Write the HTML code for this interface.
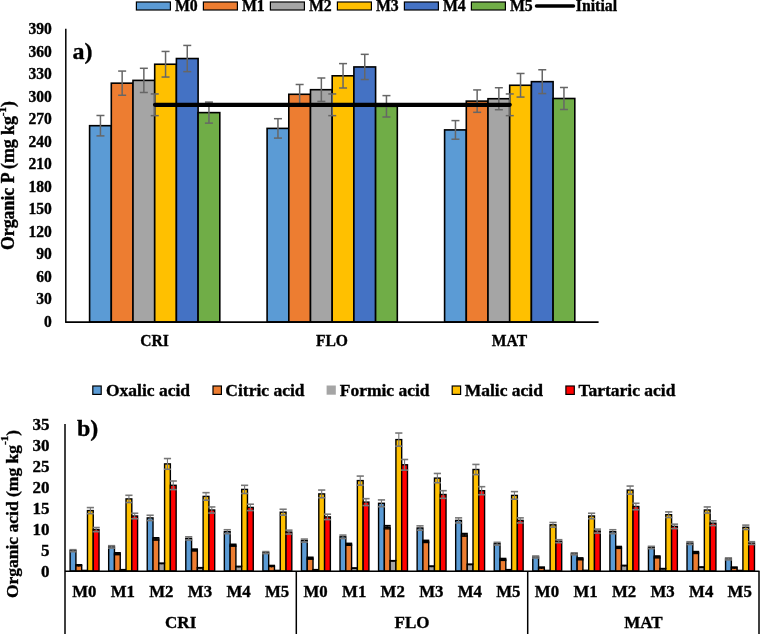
<!DOCTYPE html>
<html><head><meta charset="utf-8"><style>
html,body{margin:0;padding:0;background:#fff;width:760px;height:634px;overflow:hidden}
svg{display:block;will-change:transform}
text{font-family:"Liberation Serif", serif;font-weight:bold;fill:#000;stroke:#000;stroke-width:0.35px}
</style></head><body>
<svg width="760" height="634" viewBox="0 0 760 634">
<rect width="760" height="634" fill="#fff"/>
<rect x="136.40" y="2.00" width="34.00" height="8.00" fill="#5B9BD5" stroke="#000" stroke-width="1.2"/>
<text transform="translate(174.90,10.50) scale(1,1.0)" font-size="15.8" text-anchor="start" >M0</text>
<rect x="203.40" y="2.00" width="34.00" height="8.00" fill="#ED7D31" stroke="#000" stroke-width="1.2"/>
<text transform="translate(241.90,10.50) scale(1,1.0)" font-size="15.8" text-anchor="start" >M1</text>
<rect x="270.40" y="2.00" width="34.00" height="8.00" fill="#A5A5A5" stroke="#000" stroke-width="1.2"/>
<text transform="translate(308.90,10.50) scale(1,1.0)" font-size="15.8" text-anchor="start" >M2</text>
<rect x="337.40" y="2.00" width="34.00" height="8.00" fill="#FFC000" stroke="#000" stroke-width="1.2"/>
<text transform="translate(375.90,10.50) scale(1,1.0)" font-size="15.8" text-anchor="start" >M3</text>
<rect x="404.40" y="2.00" width="34.00" height="8.00" fill="#4472C4" stroke="#000" stroke-width="1.2"/>
<text transform="translate(442.90,10.50) scale(1,1.0)" font-size="15.8" text-anchor="start" >M4</text>
<rect x="471.40" y="2.00" width="34.00" height="8.00" fill="#70AD47" stroke="#000" stroke-width="1.2"/>
<text transform="translate(509.90,10.50) scale(1,1.0)" font-size="15.8" text-anchor="start" >M5</text>
<line x1="536.50" y1="6.10" x2="573.50" y2="6.10" stroke="#000" stroke-width="3.5" stroke-linecap="round"/>
<text transform="translate(575.80,10.50) scale(1,1.0)" font-size="15.8" text-anchor="start" >Initial</text>
<text transform="translate(51.80,327.00) scale(1,1.03)" font-size="15.6" text-anchor="end" >0</text>
<text transform="translate(51.80,304.46) scale(1,1.03)" font-size="15.6" text-anchor="end" >30</text>
<text transform="translate(51.80,281.92) scale(1,1.03)" font-size="15.6" text-anchor="end" >60</text>
<text transform="translate(51.80,259.38) scale(1,1.03)" font-size="15.6" text-anchor="end" >90</text>
<text transform="translate(51.80,236.85) scale(1,1.03)" font-size="15.6" text-anchor="end" >120</text>
<text transform="translate(51.80,214.31) scale(1,1.03)" font-size="15.6" text-anchor="end" >150</text>
<text transform="translate(51.80,191.77) scale(1,1.03)" font-size="15.6" text-anchor="end" >180</text>
<text transform="translate(51.80,169.23) scale(1,1.03)" font-size="15.6" text-anchor="end" >210</text>
<text transform="translate(51.80,146.69) scale(1,1.03)" font-size="15.6" text-anchor="end" >240</text>
<text transform="translate(51.80,124.15) scale(1,1.03)" font-size="15.6" text-anchor="end" >270</text>
<text transform="translate(51.80,101.62) scale(1,1.03)" font-size="15.6" text-anchor="end" >300</text>
<text transform="translate(51.80,79.08) scale(1,1.03)" font-size="15.6" text-anchor="end" >330</text>
<text transform="translate(51.80,56.54) scale(1,1.03)" font-size="15.6" text-anchor="end" >360</text>
<text transform="translate(51.80,34.00) scale(1,1.03)" font-size="15.6" text-anchor="end" >390</text>
<text transform="translate(14.3,250) rotate(-90)" font-size="17.8">Organic P (mg kg<tspan dy="-8" font-size="11">-1</tspan><tspan dy="8">)</tspan></text>
<text transform="translate(72.50,59.00) scale(1,1.0)" font-size="24" text-anchor="start" >a)</text>
<rect x="89.60" y="125.69" width="21.70" height="196.31" fill="#5B9BD5" stroke="#000" stroke-width="1.6"/>
<rect x="111.30" y="83.17" width="21.70" height="238.83" fill="#ED7D31" stroke="#000" stroke-width="1.6"/>
<rect x="133.00" y="80.39" width="21.70" height="241.61" fill="#A5A5A5" stroke="#000" stroke-width="1.6"/>
<rect x="154.70" y="64.24" width="21.70" height="257.76" fill="#FFC000" stroke="#000" stroke-width="1.6"/>
<rect x="176.40" y="58.53" width="21.70" height="263.47" fill="#4472C4" stroke="#000" stroke-width="1.6"/>
<rect x="198.10" y="112.62" width="21.70" height="209.38" fill="#70AD47" stroke="#000" stroke-width="1.6"/>
<rect x="267.10" y="128.39" width="21.70" height="193.61" fill="#5B9BD5" stroke="#000" stroke-width="1.6"/>
<rect x="288.80" y="94.29" width="21.70" height="227.71" fill="#ED7D31" stroke="#000" stroke-width="1.6"/>
<rect x="310.50" y="89.70" width="21.70" height="232.30" fill="#A5A5A5" stroke="#000" stroke-width="1.6"/>
<rect x="332.20" y="75.80" width="21.70" height="246.20" fill="#FFC000" stroke="#000" stroke-width="1.6"/>
<rect x="353.90" y="66.94" width="21.70" height="255.06" fill="#4472C4" stroke="#000" stroke-width="1.6"/>
<rect x="375.60" y="106.31" width="21.70" height="215.69" fill="#70AD47" stroke="#000" stroke-width="1.6"/>
<rect x="444.60" y="129.90" width="21.70" height="192.10" fill="#5B9BD5" stroke="#000" stroke-width="1.6"/>
<rect x="466.30" y="101.12" width="21.70" height="220.88" fill="#ED7D31" stroke="#000" stroke-width="1.6"/>
<rect x="488.00" y="98.72" width="21.70" height="223.28" fill="#A5A5A5" stroke="#000" stroke-width="1.6"/>
<rect x="509.70" y="85.27" width="21.70" height="236.73" fill="#FFC000" stroke="#000" stroke-width="1.6"/>
<rect x="531.40" y="81.66" width="21.70" height="240.34" fill="#4472C4" stroke="#000" stroke-width="1.6"/>
<rect x="553.10" y="98.49" width="21.70" height="223.51" fill="#70AD47" stroke="#000" stroke-width="1.6"/>
<line x1="100.45" y1="115.49" x2="100.45" y2="135.89" stroke="#666" stroke-width="1.5" />
<line x1="96.45" y1="115.49" x2="104.45" y2="115.49" stroke="#666" stroke-width="1.5" />
<line x1="96.45" y1="135.89" x2="104.45" y2="135.89" stroke="#666" stroke-width="1.5" />
<line x1="122.15" y1="71.07" x2="122.15" y2="95.27" stroke="#666" stroke-width="1.5" />
<line x1="118.15" y1="71.07" x2="126.15" y2="71.07" stroke="#666" stroke-width="1.5" />
<line x1="118.15" y1="95.27" x2="126.15" y2="95.27" stroke="#666" stroke-width="1.5" />
<line x1="143.85" y1="68.29" x2="143.85" y2="92.49" stroke="#666" stroke-width="1.5" />
<line x1="139.85" y1="68.29" x2="147.85" y2="68.29" stroke="#666" stroke-width="1.5" />
<line x1="139.85" y1="92.49" x2="147.85" y2="92.49" stroke="#666" stroke-width="1.5" />
<line x1="165.55" y1="51.44" x2="165.55" y2="77.04" stroke="#666" stroke-width="1.5" />
<line x1="161.55" y1="51.44" x2="169.55" y2="51.44" stroke="#666" stroke-width="1.5" />
<line x1="161.55" y1="77.04" x2="169.55" y2="77.04" stroke="#666" stroke-width="1.5" />
<line x1="187.25" y1="45.43" x2="187.25" y2="71.63" stroke="#666" stroke-width="1.5" />
<line x1="183.25" y1="45.43" x2="191.25" y2="45.43" stroke="#666" stroke-width="1.5" />
<line x1="183.25" y1="71.63" x2="191.25" y2="71.63" stroke="#666" stroke-width="1.5" />
<line x1="208.95" y1="102.12" x2="208.95" y2="123.12" stroke="#666" stroke-width="1.5" />
<line x1="204.95" y1="102.12" x2="212.95" y2="102.12" stroke="#666" stroke-width="1.5" />
<line x1="204.95" y1="123.12" x2="212.95" y2="123.12" stroke="#666" stroke-width="1.5" />
<line x1="277.95" y1="118.69" x2="277.95" y2="138.09" stroke="#666" stroke-width="1.5" />
<line x1="273.95" y1="118.69" x2="281.95" y2="118.69" stroke="#666" stroke-width="1.5" />
<line x1="273.95" y1="138.09" x2="281.95" y2="138.09" stroke="#666" stroke-width="1.5" />
<line x1="299.65" y1="84.49" x2="299.65" y2="104.09" stroke="#666" stroke-width="1.5" />
<line x1="295.65" y1="84.49" x2="303.65" y2="84.49" stroke="#666" stroke-width="1.5" />
<line x1="295.65" y1="104.09" x2="303.65" y2="104.09" stroke="#666" stroke-width="1.5" />
<line x1="321.35" y1="78.00" x2="321.35" y2="101.40" stroke="#666" stroke-width="1.5" />
<line x1="317.35" y1="78.00" x2="325.35" y2="78.00" stroke="#666" stroke-width="1.5" />
<line x1="317.35" y1="101.40" x2="325.35" y2="101.40" stroke="#666" stroke-width="1.5" />
<line x1="343.05" y1="63.60" x2="343.05" y2="88.00" stroke="#666" stroke-width="1.5" />
<line x1="339.05" y1="63.60" x2="347.05" y2="63.60" stroke="#666" stroke-width="1.5" />
<line x1="339.05" y1="88.00" x2="347.05" y2="88.00" stroke="#666" stroke-width="1.5" />
<line x1="364.75" y1="54.34" x2="364.75" y2="79.54" stroke="#666" stroke-width="1.5" />
<line x1="360.75" y1="54.34" x2="368.75" y2="54.34" stroke="#666" stroke-width="1.5" />
<line x1="360.75" y1="79.54" x2="368.75" y2="79.54" stroke="#666" stroke-width="1.5" />
<line x1="386.45" y1="95.61" x2="386.45" y2="117.01" stroke="#666" stroke-width="1.5" />
<line x1="382.45" y1="95.61" x2="390.45" y2="95.61" stroke="#666" stroke-width="1.5" />
<line x1="382.45" y1="117.01" x2="390.45" y2="117.01" stroke="#666" stroke-width="1.5" />
<line x1="455.45" y1="120.60" x2="455.45" y2="139.20" stroke="#666" stroke-width="1.5" />
<line x1="451.45" y1="120.60" x2="459.45" y2="120.60" stroke="#666" stroke-width="1.5" />
<line x1="451.45" y1="139.20" x2="459.45" y2="139.20" stroke="#666" stroke-width="1.5" />
<line x1="477.15" y1="89.92" x2="477.15" y2="112.32" stroke="#666" stroke-width="1.5" />
<line x1="473.15" y1="89.92" x2="481.15" y2="89.92" stroke="#666" stroke-width="1.5" />
<line x1="473.15" y1="112.32" x2="481.15" y2="112.32" stroke="#666" stroke-width="1.5" />
<line x1="498.85" y1="87.72" x2="498.85" y2="109.72" stroke="#666" stroke-width="1.5" />
<line x1="494.85" y1="87.72" x2="502.85" y2="87.72" stroke="#666" stroke-width="1.5" />
<line x1="494.85" y1="109.72" x2="502.85" y2="109.72" stroke="#666" stroke-width="1.5" />
<line x1="520.55" y1="73.47" x2="520.55" y2="97.07" stroke="#666" stroke-width="1.5" />
<line x1="516.55" y1="73.47" x2="524.55" y2="73.47" stroke="#666" stroke-width="1.5" />
<line x1="516.55" y1="97.07" x2="524.55" y2="97.07" stroke="#666" stroke-width="1.5" />
<line x1="542.25" y1="69.76" x2="542.25" y2="93.56" stroke="#666" stroke-width="1.5" />
<line x1="538.25" y1="69.76" x2="546.25" y2="69.76" stroke="#666" stroke-width="1.5" />
<line x1="538.25" y1="93.56" x2="546.25" y2="93.56" stroke="#666" stroke-width="1.5" />
<line x1="563.95" y1="87.49" x2="563.95" y2="109.49" stroke="#666" stroke-width="1.5" />
<line x1="559.95" y1="87.49" x2="567.95" y2="87.49" stroke="#666" stroke-width="1.5" />
<line x1="559.95" y1="109.49" x2="567.95" y2="109.49" stroke="#666" stroke-width="1.5" />
<line x1="65.80" y1="28.70" x2="65.80" y2="322.60" stroke="#000" stroke-width="1.5" />
<line x1="65.20" y1="322.10" x2="598.60" y2="322.10" stroke="#000" stroke-width="1.6" />
<line x1="154.75" y1="93.95" x2="154.75" y2="115.65" stroke="#666" stroke-width="1.5" />
<line x1="150.75" y1="93.95" x2="158.75" y2="93.95" stroke="#666" stroke-width="1.5" />
<line x1="150.75" y1="115.65" x2="158.75" y2="115.65" stroke="#666" stroke-width="1.5" />
<line x1="332.25" y1="93.95" x2="332.25" y2="115.65" stroke="#666" stroke-width="1.5" />
<line x1="328.25" y1="93.95" x2="336.25" y2="93.95" stroke="#666" stroke-width="1.5" />
<line x1="328.25" y1="115.65" x2="336.25" y2="115.65" stroke="#666" stroke-width="1.5" />
<line x1="509.75" y1="93.95" x2="509.75" y2="115.65" stroke="#666" stroke-width="1.5" />
<line x1="505.75" y1="93.95" x2="513.75" y2="93.95" stroke="#666" stroke-width="1.5" />
<line x1="505.75" y1="115.65" x2="513.75" y2="115.65" stroke="#666" stroke-width="1.5" />
<line x1="155.05" y1="104.80" x2="509.75" y2="104.80" stroke="#000" stroke-width="4.2" stroke-linecap="round"/>
<text transform="translate(154.45,345.80) scale(1,1.06)" font-size="15.6" text-anchor="middle" >CRI</text>
<text transform="translate(331.95,345.80) scale(1,1.06)" font-size="15.6" text-anchor="middle" >FLO</text>
<text transform="translate(509.45,345.80) scale(1,1.06)" font-size="15.6" text-anchor="middle" >MAT</text>
<rect x="92.80" y="386.00" width="8.40" height="8.40" fill="#5B9BD5" stroke="#000" stroke-width="1.2"/>
<text transform="translate(106.00,395.50) scale(1,1.0)" font-size="17.5" text-anchor="start" >Oxalic acid</text>
<rect x="213.00" y="386.00" width="8.40" height="8.40" fill="#ED7D31" stroke="#000" stroke-width="1.2"/>
<text transform="translate(225.30,395.50) scale(1,1.0)" font-size="17.5" text-anchor="start" >Citric acid</text>
<rect x="326.60" y="385.5" width="9.2" height="9.2" fill="#A5A5A5"/>
<text transform="translate(339.70,395.50) scale(1,1.0)" font-size="17.5" text-anchor="start" >Formic acid</text>
<rect x="452.20" y="386.00" width="8.40" height="8.40" fill="#FFC000" stroke="#000" stroke-width="1.2"/>
<text transform="translate(464.70,395.50) scale(1,1.0)" font-size="17.5" text-anchor="start" >Malic acid</text>
<rect x="565.90" y="386.00" width="8.40" height="8.40" fill="#FF0000" stroke="#000" stroke-width="1.2"/>
<text transform="translate(578.40,395.50) scale(1,1.0)" font-size="17.5" text-anchor="start" >Tartaric acid</text>
<text transform="translate(49.50,576.80) scale(1,1.0)" font-size="17" text-anchor="end" >0</text>
<text transform="translate(49.50,555.80) scale(1,1.0)" font-size="17" text-anchor="end" >5</text>
<text transform="translate(49.50,534.80) scale(1,1.0)" font-size="17" text-anchor="end" >10</text>
<text transform="translate(49.50,513.80) scale(1,1.0)" font-size="17" text-anchor="end" >15</text>
<text transform="translate(49.50,492.80) scale(1,1.0)" font-size="17" text-anchor="end" >20</text>
<text transform="translate(49.50,471.80) scale(1,1.0)" font-size="17" text-anchor="end" >25</text>
<text transform="translate(49.50,450.80) scale(1,1.0)" font-size="17" text-anchor="end" >30</text>
<text transform="translate(49.50,429.80) scale(1,1.0)" font-size="17" text-anchor="end" >35</text>
<text transform="translate(17.5,598.1) rotate(-90)" font-size="17.5">Organic acid (mg kg<tspan dy="-10" font-size="11">-1</tspan><tspan dy="10">)</tspan></text>
<text transform="translate(77.00,436.30) scale(1,1.0)" font-size="24" text-anchor="start" >b)</text>
<rect x="70.13" y="550.70" width="5.78" height="20.30" fill="#5B9BD5" stroke="#000" stroke-width="1.4"/>
<rect x="75.91" y="565.80" width="5.78" height="5.20" fill="#ED7D31" stroke="#000" stroke-width="1.4"/>
<rect x="81.69" y="570.40" width="5.78" height="0.60" fill="#A5A5A5" stroke="#000" stroke-width="1.4"/>
<rect x="87.47" y="510.60" width="5.78" height="60.40" fill="#FFC000" stroke="#000" stroke-width="1.4"/>
<rect x="93.25" y="529.60" width="5.78" height="41.40" fill="#FF0000" stroke="#000" stroke-width="1.4"/>
<rect x="108.68" y="546.90" width="5.78" height="24.10" fill="#5B9BD5" stroke="#000" stroke-width="1.4"/>
<rect x="114.46" y="553.80" width="5.78" height="17.20" fill="#ED7D31" stroke="#000" stroke-width="1.4"/>
<rect x="120.24" y="569.60" width="5.78" height="1.40" fill="#A5A5A5" stroke="#000" stroke-width="1.4"/>
<rect x="126.02" y="498.90" width="5.78" height="72.10" fill="#FFC000" stroke="#000" stroke-width="1.4"/>
<rect x="131.80" y="516.00" width="5.78" height="55.00" fill="#FF0000" stroke="#000" stroke-width="1.4"/>
<rect x="147.24" y="517.90" width="5.78" height="53.10" fill="#5B9BD5" stroke="#000" stroke-width="1.4"/>
<rect x="153.02" y="539.00" width="5.78" height="32.00" fill="#ED7D31" stroke="#000" stroke-width="1.4"/>
<rect x="158.80" y="563.60" width="5.78" height="7.40" fill="#A5A5A5" stroke="#000" stroke-width="1.4"/>
<rect x="164.58" y="463.90" width="5.78" height="107.10" fill="#FFC000" stroke="#000" stroke-width="1.4"/>
<rect x="170.36" y="485.30" width="5.78" height="85.70" fill="#FF0000" stroke="#000" stroke-width="1.4"/>
<rect x="185.79" y="538.40" width="5.78" height="32.60" fill="#5B9BD5" stroke="#000" stroke-width="1.4"/>
<rect x="191.57" y="550.10" width="5.78" height="20.90" fill="#ED7D31" stroke="#000" stroke-width="1.4"/>
<rect x="197.35" y="568.10" width="5.78" height="2.90" fill="#A5A5A5" stroke="#000" stroke-width="1.4"/>
<rect x="203.13" y="496.40" width="5.78" height="74.60" fill="#FFC000" stroke="#000" stroke-width="1.4"/>
<rect x="208.91" y="510.00" width="5.78" height="61.00" fill="#FF0000" stroke="#000" stroke-width="1.4"/>
<rect x="224.35" y="531.70" width="5.78" height="39.30" fill="#5B9BD5" stroke="#000" stroke-width="1.4"/>
<rect x="230.13" y="545.30" width="5.78" height="25.70" fill="#ED7D31" stroke="#000" stroke-width="1.4"/>
<rect x="235.91" y="566.80" width="5.78" height="4.20" fill="#A5A5A5" stroke="#000" stroke-width="1.4"/>
<rect x="241.69" y="489.40" width="5.78" height="81.60" fill="#FFC000" stroke="#000" stroke-width="1.4"/>
<rect x="247.47" y="507.40" width="5.78" height="63.60" fill="#FF0000" stroke="#000" stroke-width="1.4"/>
<rect x="262.91" y="552.60" width="5.78" height="18.40" fill="#5B9BD5" stroke="#000" stroke-width="1.4"/>
<rect x="268.69" y="566.50" width="5.78" height="4.50" fill="#ED7D31" stroke="#000" stroke-width="1.4"/>
<rect x="274.47" y="570.40" width="5.78" height="0.60" fill="#A5A5A5" stroke="#000" stroke-width="1.4"/>
<rect x="280.25" y="512.20" width="5.78" height="58.80" fill="#FFC000" stroke="#000" stroke-width="1.4"/>
<rect x="286.03" y="532.10" width="5.78" height="38.90" fill="#FF0000" stroke="#000" stroke-width="1.4"/>
<rect x="301.46" y="540.60" width="5.78" height="30.40" fill="#5B9BD5" stroke="#000" stroke-width="1.4"/>
<rect x="307.24" y="558.30" width="5.78" height="12.70" fill="#ED7D31" stroke="#000" stroke-width="1.4"/>
<rect x="313.02" y="569.60" width="5.78" height="1.40" fill="#A5A5A5" stroke="#000" stroke-width="1.4"/>
<rect x="318.80" y="493.90" width="5.78" height="77.10" fill="#FFC000" stroke="#000" stroke-width="1.4"/>
<rect x="324.58" y="516.90" width="5.78" height="54.10" fill="#FF0000" stroke="#000" stroke-width="1.4"/>
<rect x="340.02" y="536.80" width="5.78" height="34.20" fill="#5B9BD5" stroke="#000" stroke-width="1.4"/>
<rect x="345.80" y="544.40" width="5.78" height="26.60" fill="#ED7D31" stroke="#000" stroke-width="1.4"/>
<rect x="351.58" y="568.40" width="5.78" height="2.60" fill="#A5A5A5" stroke="#000" stroke-width="1.4"/>
<rect x="357.36" y="480.60" width="5.78" height="90.40" fill="#FFC000" stroke="#000" stroke-width="1.4"/>
<rect x="363.14" y="502.10" width="5.78" height="68.90" fill="#FF0000" stroke="#000" stroke-width="1.4"/>
<rect x="378.57" y="503.30" width="5.78" height="67.70" fill="#5B9BD5" stroke="#000" stroke-width="1.4"/>
<rect x="384.35" y="527.30" width="5.78" height="43.70" fill="#ED7D31" stroke="#000" stroke-width="1.4"/>
<rect x="390.13" y="561.10" width="5.78" height="9.90" fill="#A5A5A5" stroke="#000" stroke-width="1.4"/>
<rect x="395.91" y="439.60" width="5.78" height="131.40" fill="#FFC000" stroke="#000" stroke-width="1.4"/>
<rect x="401.69" y="464.80" width="5.78" height="106.20" fill="#FF0000" stroke="#000" stroke-width="1.4"/>
<rect x="417.13" y="528.00" width="5.78" height="43.00" fill="#5B9BD5" stroke="#000" stroke-width="1.4"/>
<rect x="422.91" y="541.50" width="5.78" height="29.50" fill="#ED7D31" stroke="#000" stroke-width="1.4"/>
<rect x="428.69" y="566.50" width="5.78" height="4.50" fill="#A5A5A5" stroke="#000" stroke-width="1.4"/>
<rect x="434.47" y="478.10" width="5.78" height="92.90" fill="#FFC000" stroke="#000" stroke-width="1.4"/>
<rect x="440.25" y="494.50" width="5.78" height="76.50" fill="#FF0000" stroke="#000" stroke-width="1.4"/>
<rect x="455.68" y="520.40" width="5.78" height="50.60" fill="#5B9BD5" stroke="#000" stroke-width="1.4"/>
<rect x="461.46" y="534.90" width="5.78" height="36.10" fill="#ED7D31" stroke="#000" stroke-width="1.4"/>
<rect x="467.24" y="564.60" width="5.78" height="6.40" fill="#A5A5A5" stroke="#000" stroke-width="1.4"/>
<rect x="473.02" y="469.50" width="5.78" height="101.50" fill="#FFC000" stroke="#000" stroke-width="1.4"/>
<rect x="478.80" y="490.70" width="5.78" height="80.30" fill="#FF0000" stroke="#000" stroke-width="1.4"/>
<rect x="494.24" y="543.70" width="5.78" height="27.30" fill="#5B9BD5" stroke="#000" stroke-width="1.4"/>
<rect x="500.02" y="559.50" width="5.78" height="11.50" fill="#ED7D31" stroke="#000" stroke-width="1.4"/>
<rect x="505.80" y="569.60" width="5.78" height="1.40" fill="#A5A5A5" stroke="#000" stroke-width="1.4"/>
<rect x="511.58" y="495.40" width="5.78" height="75.60" fill="#FFC000" stroke="#000" stroke-width="1.4"/>
<rect x="517.36" y="520.40" width="5.78" height="50.60" fill="#FF0000" stroke="#000" stroke-width="1.4"/>
<rect x="532.79" y="557.00" width="5.78" height="14.00" fill="#5B9BD5" stroke="#000" stroke-width="1.4"/>
<rect x="538.57" y="568.10" width="5.78" height="2.90" fill="#ED7D31" stroke="#000" stroke-width="1.4"/>
<rect x="544.35" y="570.40" width="5.78" height="0.60" fill="#A5A5A5" stroke="#000" stroke-width="1.4"/>
<rect x="550.13" y="524.80" width="5.78" height="46.20" fill="#FFC000" stroke="#000" stroke-width="1.4"/>
<rect x="555.91" y="541.20" width="5.78" height="29.80" fill="#FF0000" stroke="#000" stroke-width="1.4"/>
<rect x="571.35" y="553.80" width="5.78" height="17.20" fill="#5B9BD5" stroke="#000" stroke-width="1.4"/>
<rect x="577.13" y="558.90" width="5.78" height="12.10" fill="#ED7D31" stroke="#000" stroke-width="1.4"/>
<rect x="582.91" y="570.30" width="5.78" height="0.70" fill="#A5A5A5" stroke="#000" stroke-width="1.4"/>
<rect x="588.69" y="516.00" width="5.78" height="55.00" fill="#FFC000" stroke="#000" stroke-width="1.4"/>
<rect x="594.47" y="531.10" width="5.78" height="39.90" fill="#FF0000" stroke="#000" stroke-width="1.4"/>
<rect x="609.91" y="531.70" width="5.78" height="39.30" fill="#5B9BD5" stroke="#000" stroke-width="1.4"/>
<rect x="615.69" y="547.50" width="5.78" height="23.50" fill="#ED7D31" stroke="#000" stroke-width="1.4"/>
<rect x="621.47" y="565.80" width="5.78" height="5.20" fill="#A5A5A5" stroke="#000" stroke-width="1.4"/>
<rect x="627.25" y="490.10" width="5.78" height="80.90" fill="#FFC000" stroke="#000" stroke-width="1.4"/>
<rect x="633.03" y="506.50" width="5.78" height="64.50" fill="#FF0000" stroke="#000" stroke-width="1.4"/>
<rect x="648.46" y="547.50" width="5.78" height="23.50" fill="#5B9BD5" stroke="#000" stroke-width="1.4"/>
<rect x="654.24" y="557.00" width="5.78" height="14.00" fill="#ED7D31" stroke="#000" stroke-width="1.4"/>
<rect x="660.02" y="569.00" width="5.78" height="2.00" fill="#A5A5A5" stroke="#000" stroke-width="1.4"/>
<rect x="665.80" y="514.70" width="5.78" height="56.30" fill="#FFC000" stroke="#000" stroke-width="1.4"/>
<rect x="671.58" y="526.40" width="5.78" height="44.60" fill="#FF0000" stroke="#000" stroke-width="1.4"/>
<rect x="687.02" y="543.10" width="5.78" height="27.90" fill="#5B9BD5" stroke="#000" stroke-width="1.4"/>
<rect x="692.80" y="552.60" width="5.78" height="18.40" fill="#ED7D31" stroke="#000" stroke-width="1.4"/>
<rect x="698.58" y="567.40" width="5.78" height="3.60" fill="#A5A5A5" stroke="#000" stroke-width="1.4"/>
<rect x="704.36" y="510.00" width="5.78" height="61.00" fill="#FFC000" stroke="#000" stroke-width="1.4"/>
<rect x="710.14" y="523.20" width="5.78" height="47.80" fill="#FF0000" stroke="#000" stroke-width="1.4"/>
<rect x="725.57" y="558.90" width="5.78" height="12.10" fill="#5B9BD5" stroke="#000" stroke-width="1.4"/>
<rect x="731.35" y="568.10" width="5.78" height="2.90" fill="#ED7D31" stroke="#000" stroke-width="1.4"/>
<rect x="737.13" y="570.40" width="5.78" height="0.60" fill="#A5A5A5" stroke="#000" stroke-width="1.4"/>
<rect x="742.91" y="527.30" width="5.78" height="43.70" fill="#FFC000" stroke="#000" stroke-width="1.4"/>
<rect x="748.69" y="543.10" width="5.78" height="27.90" fill="#FF0000" stroke="#000" stroke-width="1.4"/>
<line x1="73.02" y1="549.69" x2="73.02" y2="551.72" stroke="#777" stroke-width="1.1" />
<line x1="69.42" y1="549.69" x2="76.62" y2="549.69" stroke="#777" stroke-width="1.6" />
<line x1="69.42" y1="551.72" x2="76.62" y2="551.72" stroke="#777" stroke-width="1.6" />
<line x1="78.80" y1="564.90" x2="78.80" y2="566.70" stroke="#000" stroke-width="1.0" />
<line x1="75.30" y1="564.90" x2="82.30" y2="564.90" stroke="#000" stroke-width="1.8" />
<line x1="90.36" y1="507.58" x2="90.36" y2="513.62" stroke="#777" stroke-width="1.1" />
<line x1="86.76" y1="507.58" x2="93.96" y2="507.58" stroke="#777" stroke-width="1.6" />
<line x1="86.76" y1="513.62" x2="93.96" y2="513.62" stroke="#777" stroke-width="1.6" />
<line x1="96.14" y1="527.53" x2="96.14" y2="531.67" stroke="#777" stroke-width="1.1" />
<line x1="92.54" y1="527.53" x2="99.74" y2="527.53" stroke="#777" stroke-width="1.6" />
<line x1="92.54" y1="531.67" x2="99.74" y2="531.67" stroke="#777" stroke-width="1.6" />
<line x1="111.57" y1="545.69" x2="111.57" y2="548.11" stroke="#777" stroke-width="1.1" />
<line x1="107.97" y1="545.69" x2="115.17" y2="545.69" stroke="#777" stroke-width="1.6" />
<line x1="107.97" y1="548.11" x2="115.17" y2="548.11" stroke="#777" stroke-width="1.6" />
<line x1="117.35" y1="552.90" x2="117.35" y2="554.70" stroke="#000" stroke-width="1.0" />
<line x1="113.85" y1="552.90" x2="120.85" y2="552.90" stroke="#000" stroke-width="1.8" />
<line x1="113.85" y1="554.70" x2="120.85" y2="554.70" stroke="#000" stroke-width="1.4" />
<line x1="128.91" y1="495.30" x2="128.91" y2="502.51" stroke="#777" stroke-width="1.1" />
<line x1="125.31" y1="495.30" x2="132.51" y2="495.30" stroke="#777" stroke-width="1.6" />
<line x1="125.31" y1="502.51" x2="132.51" y2="502.51" stroke="#777" stroke-width="1.6" />
<line x1="134.69" y1="513.25" x2="134.69" y2="518.75" stroke="#777" stroke-width="1.1" />
<line x1="131.09" y1="513.25" x2="138.29" y2="513.25" stroke="#777" stroke-width="1.6" />
<line x1="131.09" y1="518.75" x2="138.29" y2="518.75" stroke="#777" stroke-width="1.6" />
<line x1="150.13" y1="515.25" x2="150.13" y2="520.55" stroke="#777" stroke-width="1.1" />
<line x1="146.53" y1="515.25" x2="153.73" y2="515.25" stroke="#777" stroke-width="1.6" />
<line x1="146.53" y1="520.55" x2="153.73" y2="520.55" stroke="#777" stroke-width="1.6" />
<line x1="155.91" y1="537.88" x2="155.91" y2="540.12" stroke="#000" stroke-width="1.0" />
<line x1="152.41" y1="537.88" x2="159.41" y2="537.88" stroke="#000" stroke-width="1.8" />
<line x1="152.41" y1="540.12" x2="159.41" y2="540.12" stroke="#000" stroke-width="1.4" />
<line x1="161.69" y1="563.00" x2="161.69" y2="564.20" stroke="#000" stroke-width="1.0" />
<line x1="158.19" y1="563.00" x2="165.19" y2="563.00" stroke="#000" stroke-width="1.2" />
<line x1="167.47" y1="458.55" x2="167.47" y2="469.26" stroke="#777" stroke-width="1.1" />
<line x1="163.87" y1="458.55" x2="171.07" y2="458.55" stroke="#777" stroke-width="1.6" />
<line x1="163.87" y1="469.26" x2="171.07" y2="469.26" stroke="#777" stroke-width="1.6" />
<line x1="173.25" y1="481.01" x2="173.25" y2="489.59" stroke="#777" stroke-width="1.1" />
<line x1="169.65" y1="481.01" x2="176.85" y2="481.01" stroke="#777" stroke-width="1.6" />
<line x1="169.65" y1="489.59" x2="176.85" y2="489.59" stroke="#777" stroke-width="1.6" />
<line x1="188.68" y1="536.77" x2="188.68" y2="540.03" stroke="#777" stroke-width="1.1" />
<line x1="185.08" y1="536.77" x2="192.28" y2="536.77" stroke="#777" stroke-width="1.6" />
<line x1="185.08" y1="540.03" x2="192.28" y2="540.03" stroke="#777" stroke-width="1.6" />
<line x1="194.46" y1="549.20" x2="194.46" y2="551.00" stroke="#000" stroke-width="1.0" />
<line x1="190.96" y1="549.20" x2="197.96" y2="549.20" stroke="#000" stroke-width="1.8" />
<line x1="190.96" y1="551.00" x2="197.96" y2="551.00" stroke="#000" stroke-width="1.4" />
<line x1="200.24" y1="567.50" x2="200.24" y2="568.70" stroke="#000" stroke-width="1.0" />
<line x1="196.74" y1="567.50" x2="203.74" y2="567.50" stroke="#000" stroke-width="1.2" />
<line x1="206.02" y1="492.67" x2="206.02" y2="500.13" stroke="#777" stroke-width="1.1" />
<line x1="202.42" y1="492.67" x2="209.62" y2="492.67" stroke="#777" stroke-width="1.6" />
<line x1="202.42" y1="500.13" x2="209.62" y2="500.13" stroke="#777" stroke-width="1.6" />
<line x1="211.80" y1="506.95" x2="211.80" y2="513.05" stroke="#777" stroke-width="1.1" />
<line x1="208.20" y1="506.95" x2="215.40" y2="506.95" stroke="#777" stroke-width="1.6" />
<line x1="208.20" y1="513.05" x2="215.40" y2="513.05" stroke="#777" stroke-width="1.6" />
<line x1="227.24" y1="529.74" x2="227.24" y2="533.67" stroke="#777" stroke-width="1.1" />
<line x1="223.64" y1="529.74" x2="230.84" y2="529.74" stroke="#777" stroke-width="1.6" />
<line x1="223.64" y1="533.67" x2="230.84" y2="533.67" stroke="#777" stroke-width="1.6" />
<line x1="233.02" y1="544.40" x2="233.02" y2="546.20" stroke="#000" stroke-width="1.0" />
<line x1="229.52" y1="544.40" x2="236.52" y2="544.40" stroke="#000" stroke-width="1.8" />
<line x1="229.52" y1="546.20" x2="236.52" y2="546.20" stroke="#000" stroke-width="1.4" />
<line x1="238.80" y1="566.20" x2="238.80" y2="567.40" stroke="#000" stroke-width="1.0" />
<line x1="235.30" y1="566.20" x2="242.30" y2="566.20" stroke="#000" stroke-width="1.2" />
<line x1="244.58" y1="485.32" x2="244.58" y2="493.48" stroke="#777" stroke-width="1.1" />
<line x1="240.98" y1="485.32" x2="248.18" y2="485.32" stroke="#777" stroke-width="1.6" />
<line x1="240.98" y1="493.48" x2="248.18" y2="493.48" stroke="#777" stroke-width="1.6" />
<line x1="250.36" y1="504.22" x2="250.36" y2="510.58" stroke="#777" stroke-width="1.1" />
<line x1="246.76" y1="504.22" x2="253.96" y2="504.22" stroke="#777" stroke-width="1.6" />
<line x1="246.76" y1="510.58" x2="253.96" y2="510.58" stroke="#777" stroke-width="1.6" />
<line x1="265.80" y1="551.60" x2="265.80" y2="553.60" stroke="#777" stroke-width="1.1" />
<line x1="262.20" y1="551.60" x2="269.40" y2="551.60" stroke="#777" stroke-width="1.6" />
<line x1="262.20" y1="553.60" x2="269.40" y2="553.60" stroke="#777" stroke-width="1.6" />
<line x1="271.58" y1="565.60" x2="271.58" y2="567.40" stroke="#000" stroke-width="1.0" />
<line x1="268.08" y1="565.60" x2="275.08" y2="565.60" stroke="#000" stroke-width="1.8" />
<line x1="283.14" y1="509.26" x2="283.14" y2="515.14" stroke="#777" stroke-width="1.1" />
<line x1="279.54" y1="509.26" x2="286.74" y2="509.26" stroke="#777" stroke-width="1.6" />
<line x1="279.54" y1="515.14" x2="286.74" y2="515.14" stroke="#777" stroke-width="1.6" />
<line x1="288.92" y1="530.15" x2="288.92" y2="534.05" stroke="#777" stroke-width="1.1" />
<line x1="285.32" y1="530.15" x2="292.52" y2="530.15" stroke="#777" stroke-width="1.6" />
<line x1="285.32" y1="534.05" x2="292.52" y2="534.05" stroke="#777" stroke-width="1.6" />
<line x1="304.35" y1="539.08" x2="304.35" y2="542.12" stroke="#777" stroke-width="1.1" />
<line x1="300.75" y1="539.08" x2="307.95" y2="539.08" stroke="#777" stroke-width="1.6" />
<line x1="300.75" y1="542.12" x2="307.95" y2="542.12" stroke="#777" stroke-width="1.6" />
<line x1="310.13" y1="557.40" x2="310.13" y2="559.20" stroke="#000" stroke-width="1.0" />
<line x1="306.63" y1="557.40" x2="313.63" y2="557.40" stroke="#000" stroke-width="1.8" />
<line x1="306.63" y1="559.20" x2="313.63" y2="559.20" stroke="#000" stroke-width="1.4" />
<line x1="321.69" y1="490.05" x2="321.69" y2="497.76" stroke="#777" stroke-width="1.1" />
<line x1="318.09" y1="490.05" x2="325.29" y2="490.05" stroke="#777" stroke-width="1.6" />
<line x1="318.09" y1="497.76" x2="325.29" y2="497.76" stroke="#777" stroke-width="1.6" />
<line x1="327.47" y1="514.19" x2="327.47" y2="519.61" stroke="#777" stroke-width="1.1" />
<line x1="323.87" y1="514.19" x2="331.07" y2="514.19" stroke="#777" stroke-width="1.6" />
<line x1="323.87" y1="519.61" x2="331.07" y2="519.61" stroke="#777" stroke-width="1.6" />
<line x1="342.91" y1="535.09" x2="342.91" y2="538.51" stroke="#777" stroke-width="1.1" />
<line x1="339.31" y1="535.09" x2="346.51" y2="535.09" stroke="#777" stroke-width="1.6" />
<line x1="339.31" y1="538.51" x2="346.51" y2="538.51" stroke="#777" stroke-width="1.6" />
<line x1="348.69" y1="543.47" x2="348.69" y2="545.33" stroke="#000" stroke-width="1.0" />
<line x1="345.19" y1="543.47" x2="352.19" y2="543.47" stroke="#000" stroke-width="1.8" />
<line x1="345.19" y1="545.33" x2="352.19" y2="545.33" stroke="#000" stroke-width="1.4" />
<line x1="354.47" y1="567.80" x2="354.47" y2="569.00" stroke="#000" stroke-width="1.0" />
<line x1="350.97" y1="567.80" x2="357.97" y2="567.80" stroke="#000" stroke-width="1.2" />
<line x1="360.25" y1="476.08" x2="360.25" y2="485.12" stroke="#777" stroke-width="1.1" />
<line x1="356.65" y1="476.08" x2="363.85" y2="476.08" stroke="#777" stroke-width="1.6" />
<line x1="356.65" y1="485.12" x2="363.85" y2="485.12" stroke="#777" stroke-width="1.6" />
<line x1="366.03" y1="498.66" x2="366.03" y2="505.55" stroke="#777" stroke-width="1.1" />
<line x1="362.43" y1="498.66" x2="369.63" y2="498.66" stroke="#777" stroke-width="1.6" />
<line x1="362.43" y1="505.55" x2="369.63" y2="505.55" stroke="#777" stroke-width="1.6" />
<line x1="381.46" y1="499.92" x2="381.46" y2="506.69" stroke="#777" stroke-width="1.1" />
<line x1="377.86" y1="499.92" x2="385.06" y2="499.92" stroke="#777" stroke-width="1.6" />
<line x1="377.86" y1="506.69" x2="385.06" y2="506.69" stroke="#777" stroke-width="1.6" />
<line x1="387.24" y1="525.77" x2="387.24" y2="528.83" stroke="#000" stroke-width="1.0" />
<line x1="383.74" y1="525.77" x2="390.74" y2="525.77" stroke="#000" stroke-width="1.8" />
<line x1="383.74" y1="528.83" x2="390.74" y2="528.83" stroke="#000" stroke-width="1.4" />
<line x1="393.02" y1="560.50" x2="393.02" y2="561.70" stroke="#000" stroke-width="1.0" />
<line x1="389.52" y1="560.50" x2="396.52" y2="560.50" stroke="#000" stroke-width="1.2" />
<line x1="398.80" y1="433.03" x2="398.80" y2="446.17" stroke="#777" stroke-width="1.1" />
<line x1="395.20" y1="433.03" x2="402.40" y2="433.03" stroke="#777" stroke-width="1.6" />
<line x1="395.20" y1="446.17" x2="402.40" y2="446.17" stroke="#777" stroke-width="1.6" />
<line x1="404.58" y1="459.49" x2="404.58" y2="470.11" stroke="#777" stroke-width="1.1" />
<line x1="400.98" y1="459.49" x2="408.18" y2="459.49" stroke="#777" stroke-width="1.6" />
<line x1="400.98" y1="470.11" x2="408.18" y2="470.11" stroke="#777" stroke-width="1.6" />
<line x1="420.02" y1="525.85" x2="420.02" y2="530.15" stroke="#777" stroke-width="1.1" />
<line x1="416.42" y1="525.85" x2="423.62" y2="525.85" stroke="#777" stroke-width="1.6" />
<line x1="416.42" y1="530.15" x2="423.62" y2="530.15" stroke="#777" stroke-width="1.6" />
<line x1="425.80" y1="540.47" x2="425.80" y2="542.53" stroke="#000" stroke-width="1.0" />
<line x1="422.30" y1="540.47" x2="429.30" y2="540.47" stroke="#000" stroke-width="1.8" />
<line x1="422.30" y1="542.53" x2="429.30" y2="542.53" stroke="#000" stroke-width="1.4" />
<line x1="431.58" y1="565.90" x2="431.58" y2="567.10" stroke="#000" stroke-width="1.0" />
<line x1="428.08" y1="565.90" x2="435.08" y2="565.90" stroke="#000" stroke-width="1.2" />
<line x1="437.36" y1="473.46" x2="437.36" y2="482.75" stroke="#777" stroke-width="1.1" />
<line x1="433.76" y1="473.46" x2="440.96" y2="473.46" stroke="#777" stroke-width="1.6" />
<line x1="433.76" y1="482.75" x2="440.96" y2="482.75" stroke="#777" stroke-width="1.6" />
<line x1="443.14" y1="490.68" x2="443.14" y2="498.32" stroke="#777" stroke-width="1.1" />
<line x1="439.54" y1="490.68" x2="446.74" y2="490.68" stroke="#777" stroke-width="1.6" />
<line x1="439.54" y1="498.32" x2="446.74" y2="498.32" stroke="#777" stroke-width="1.6" />
<line x1="458.57" y1="517.87" x2="458.57" y2="522.93" stroke="#777" stroke-width="1.1" />
<line x1="454.97" y1="517.87" x2="462.17" y2="517.87" stroke="#777" stroke-width="1.6" />
<line x1="454.97" y1="522.93" x2="462.17" y2="522.93" stroke="#777" stroke-width="1.6" />
<line x1="464.35" y1="533.64" x2="464.35" y2="536.16" stroke="#000" stroke-width="1.0" />
<line x1="460.85" y1="533.64" x2="467.85" y2="533.64" stroke="#000" stroke-width="1.8" />
<line x1="460.85" y1="536.16" x2="467.85" y2="536.16" stroke="#000" stroke-width="1.4" />
<line x1="470.13" y1="564.00" x2="470.13" y2="565.20" stroke="#000" stroke-width="1.0" />
<line x1="466.63" y1="564.00" x2="473.63" y2="564.00" stroke="#000" stroke-width="1.2" />
<line x1="475.91" y1="464.43" x2="475.91" y2="474.57" stroke="#777" stroke-width="1.1" />
<line x1="472.31" y1="464.43" x2="479.51" y2="464.43" stroke="#777" stroke-width="1.6" />
<line x1="472.31" y1="474.57" x2="479.51" y2="474.57" stroke="#777" stroke-width="1.6" />
<line x1="481.69" y1="486.69" x2="481.69" y2="494.72" stroke="#777" stroke-width="1.1" />
<line x1="478.09" y1="486.69" x2="485.29" y2="486.69" stroke="#777" stroke-width="1.6" />
<line x1="478.09" y1="494.72" x2="485.29" y2="494.72" stroke="#777" stroke-width="1.6" />
<line x1="497.13" y1="542.34" x2="497.13" y2="545.07" stroke="#777" stroke-width="1.1" />
<line x1="493.53" y1="542.34" x2="500.73" y2="542.34" stroke="#777" stroke-width="1.6" />
<line x1="493.53" y1="545.07" x2="500.73" y2="545.07" stroke="#777" stroke-width="1.6" />
<line x1="502.91" y1="558.60" x2="502.91" y2="560.40" stroke="#000" stroke-width="1.0" />
<line x1="499.41" y1="558.60" x2="506.41" y2="558.60" stroke="#000" stroke-width="1.8" />
<line x1="499.41" y1="560.40" x2="506.41" y2="560.40" stroke="#000" stroke-width="1.4" />
<line x1="514.47" y1="491.62" x2="514.47" y2="499.18" stroke="#777" stroke-width="1.1" />
<line x1="510.87" y1="491.62" x2="518.07" y2="491.62" stroke="#777" stroke-width="1.6" />
<line x1="510.87" y1="499.18" x2="518.07" y2="499.18" stroke="#777" stroke-width="1.6" />
<line x1="520.25" y1="517.87" x2="520.25" y2="522.93" stroke="#777" stroke-width="1.1" />
<line x1="516.65" y1="517.87" x2="523.85" y2="517.87" stroke="#777" stroke-width="1.6" />
<line x1="516.65" y1="522.93" x2="523.85" y2="522.93" stroke="#777" stroke-width="1.6" />
<line x1="535.68" y1="556.00" x2="535.68" y2="558.00" stroke="#777" stroke-width="1.1" />
<line x1="532.08" y1="556.00" x2="539.28" y2="556.00" stroke="#777" stroke-width="1.6" />
<line x1="532.08" y1="558.00" x2="539.28" y2="558.00" stroke="#777" stroke-width="1.6" />
<line x1="541.46" y1="567.20" x2="541.46" y2="569.00" stroke="#000" stroke-width="1.0" />
<line x1="537.96" y1="567.20" x2="544.96" y2="567.20" stroke="#000" stroke-width="1.8" />
<line x1="553.02" y1="522.49" x2="553.02" y2="527.11" stroke="#777" stroke-width="1.1" />
<line x1="549.42" y1="522.49" x2="556.62" y2="522.49" stroke="#777" stroke-width="1.6" />
<line x1="549.42" y1="527.11" x2="556.62" y2="527.11" stroke="#777" stroke-width="1.6" />
<line x1="558.80" y1="539.71" x2="558.80" y2="542.69" stroke="#777" stroke-width="1.1" />
<line x1="555.20" y1="539.71" x2="562.40" y2="539.71" stroke="#777" stroke-width="1.6" />
<line x1="555.20" y1="542.69" x2="562.40" y2="542.69" stroke="#777" stroke-width="1.6" />
<line x1="574.24" y1="552.80" x2="574.24" y2="554.80" stroke="#777" stroke-width="1.1" />
<line x1="570.64" y1="552.80" x2="577.84" y2="552.80" stroke="#777" stroke-width="1.6" />
<line x1="570.64" y1="554.80" x2="577.84" y2="554.80" stroke="#777" stroke-width="1.6" />
<line x1="580.02" y1="558.00" x2="580.02" y2="559.80" stroke="#000" stroke-width="1.0" />
<line x1="576.52" y1="558.00" x2="583.52" y2="558.00" stroke="#000" stroke-width="1.8" />
<line x1="576.52" y1="559.80" x2="583.52" y2="559.80" stroke="#000" stroke-width="1.4" />
<line x1="591.58" y1="513.25" x2="591.58" y2="518.75" stroke="#777" stroke-width="1.1" />
<line x1="587.98" y1="513.25" x2="595.18" y2="513.25" stroke="#777" stroke-width="1.6" />
<line x1="587.98" y1="518.75" x2="595.18" y2="518.75" stroke="#777" stroke-width="1.6" />
<line x1="597.36" y1="529.11" x2="597.36" y2="533.10" stroke="#777" stroke-width="1.1" />
<line x1="593.76" y1="529.11" x2="600.96" y2="529.11" stroke="#777" stroke-width="1.6" />
<line x1="593.76" y1="533.10" x2="600.96" y2="533.10" stroke="#777" stroke-width="1.6" />
<line x1="612.80" y1="529.74" x2="612.80" y2="533.67" stroke="#777" stroke-width="1.1" />
<line x1="609.20" y1="529.74" x2="616.40" y2="529.74" stroke="#777" stroke-width="1.6" />
<line x1="609.20" y1="533.67" x2="616.40" y2="533.67" stroke="#777" stroke-width="1.6" />
<line x1="618.58" y1="546.60" x2="618.58" y2="548.40" stroke="#000" stroke-width="1.0" />
<line x1="615.08" y1="546.60" x2="622.08" y2="546.60" stroke="#000" stroke-width="1.8" />
<line x1="615.08" y1="548.40" x2="622.08" y2="548.40" stroke="#000" stroke-width="1.4" />
<line x1="624.36" y1="565.20" x2="624.36" y2="566.40" stroke="#000" stroke-width="1.0" />
<line x1="620.86" y1="565.20" x2="627.86" y2="565.20" stroke="#000" stroke-width="1.2" />
<line x1="630.14" y1="486.06" x2="630.14" y2="494.15" stroke="#777" stroke-width="1.1" />
<line x1="626.54" y1="486.06" x2="633.74" y2="486.06" stroke="#777" stroke-width="1.6" />
<line x1="626.54" y1="494.15" x2="633.74" y2="494.15" stroke="#777" stroke-width="1.6" />
<line x1="635.92" y1="503.27" x2="635.92" y2="509.73" stroke="#777" stroke-width="1.1" />
<line x1="632.32" y1="503.27" x2="639.52" y2="503.27" stroke="#777" stroke-width="1.6" />
<line x1="632.32" y1="509.73" x2="639.52" y2="509.73" stroke="#777" stroke-width="1.6" />
<line x1="651.35" y1="546.33" x2="651.35" y2="548.67" stroke="#777" stroke-width="1.1" />
<line x1="647.75" y1="546.33" x2="654.95" y2="546.33" stroke="#777" stroke-width="1.6" />
<line x1="647.75" y1="548.67" x2="654.95" y2="548.67" stroke="#777" stroke-width="1.6" />
<line x1="657.13" y1="556.10" x2="657.13" y2="557.90" stroke="#000" stroke-width="1.0" />
<line x1="653.63" y1="556.10" x2="660.63" y2="556.10" stroke="#000" stroke-width="1.8" />
<line x1="653.63" y1="557.90" x2="660.63" y2="557.90" stroke="#000" stroke-width="1.4" />
<line x1="662.91" y1="568.40" x2="662.91" y2="569.60" stroke="#000" stroke-width="1.0" />
<line x1="659.41" y1="568.40" x2="666.41" y2="568.40" stroke="#000" stroke-width="1.2" />
<line x1="668.69" y1="511.89" x2="668.69" y2="517.52" stroke="#777" stroke-width="1.1" />
<line x1="665.09" y1="511.89" x2="672.29" y2="511.89" stroke="#777" stroke-width="1.6" />
<line x1="665.09" y1="517.52" x2="672.29" y2="517.52" stroke="#777" stroke-width="1.6" />
<line x1="674.47" y1="524.17" x2="674.47" y2="528.63" stroke="#777" stroke-width="1.1" />
<line x1="670.87" y1="524.17" x2="678.07" y2="524.17" stroke="#777" stroke-width="1.6" />
<line x1="670.87" y1="528.63" x2="678.07" y2="528.63" stroke="#777" stroke-width="1.6" />
<line x1="689.91" y1="541.71" x2="689.91" y2="544.50" stroke="#777" stroke-width="1.1" />
<line x1="686.31" y1="541.71" x2="693.51" y2="541.71" stroke="#777" stroke-width="1.6" />
<line x1="686.31" y1="544.50" x2="693.51" y2="544.50" stroke="#777" stroke-width="1.6" />
<line x1="695.69" y1="551.70" x2="695.69" y2="553.50" stroke="#000" stroke-width="1.0" />
<line x1="692.19" y1="551.70" x2="699.19" y2="551.70" stroke="#000" stroke-width="1.8" />
<line x1="692.19" y1="553.50" x2="699.19" y2="553.50" stroke="#000" stroke-width="1.4" />
<line x1="701.47" y1="566.80" x2="701.47" y2="568.00" stroke="#000" stroke-width="1.0" />
<line x1="697.97" y1="566.80" x2="704.97" y2="566.80" stroke="#000" stroke-width="1.2" />
<line x1="707.25" y1="506.95" x2="707.25" y2="513.05" stroke="#777" stroke-width="1.1" />
<line x1="703.65" y1="506.95" x2="710.85" y2="506.95" stroke="#777" stroke-width="1.6" />
<line x1="703.65" y1="513.05" x2="710.85" y2="513.05" stroke="#777" stroke-width="1.6" />
<line x1="713.03" y1="520.81" x2="713.03" y2="525.59" stroke="#777" stroke-width="1.1" />
<line x1="709.43" y1="520.81" x2="716.63" y2="520.81" stroke="#777" stroke-width="1.6" />
<line x1="709.43" y1="525.59" x2="716.63" y2="525.59" stroke="#777" stroke-width="1.6" />
<line x1="728.46" y1="557.90" x2="728.46" y2="559.90" stroke="#777" stroke-width="1.1" />
<line x1="724.86" y1="557.90" x2="732.06" y2="557.90" stroke="#777" stroke-width="1.6" />
<line x1="724.86" y1="559.90" x2="732.06" y2="559.90" stroke="#777" stroke-width="1.6" />
<line x1="734.24" y1="567.20" x2="734.24" y2="569.00" stroke="#000" stroke-width="1.0" />
<line x1="730.74" y1="567.20" x2="737.74" y2="567.20" stroke="#000" stroke-width="1.8" />
<line x1="745.80" y1="525.12" x2="745.80" y2="529.49" stroke="#777" stroke-width="1.1" />
<line x1="742.20" y1="525.12" x2="749.40" y2="525.12" stroke="#777" stroke-width="1.6" />
<line x1="742.20" y1="529.49" x2="749.40" y2="529.49" stroke="#777" stroke-width="1.6" />
<line x1="751.58" y1="541.71" x2="751.58" y2="544.50" stroke="#777" stroke-width="1.1" />
<line x1="747.98" y1="541.71" x2="755.18" y2="541.71" stroke="#777" stroke-width="1.6" />
<line x1="747.98" y1="544.50" x2="755.18" y2="544.50" stroke="#777" stroke-width="1.6" />
<line x1="65.00" y1="424.00" x2="65.00" y2="634.00" stroke="#000" stroke-width="1.5" />
<line x1="65.00" y1="571.20" x2="759.50" y2="571.20" stroke="#000" stroke-width="1.5" />
<line x1="296.30" y1="571.20" x2="296.30" y2="634.00" stroke="#000" stroke-width="1.5" />
<line x1="527.70" y1="571.20" x2="527.70" y2="634.00" stroke="#000" stroke-width="1.5" />
<line x1="759.00" y1="571.20" x2="759.00" y2="634.00" stroke="#000" stroke-width="1.5" />
<text transform="translate(84.28,597.40) scale(1,1.04)" font-size="16.8" text-anchor="middle" >M0</text>
<text transform="translate(122.83,597.40) scale(1,1.04)" font-size="16.8" text-anchor="middle" >M1</text>
<text transform="translate(161.39,597.40) scale(1,1.04)" font-size="16.8" text-anchor="middle" >M2</text>
<text transform="translate(199.94,597.40) scale(1,1.04)" font-size="16.8" text-anchor="middle" >M3</text>
<text transform="translate(238.50,597.40) scale(1,1.04)" font-size="16.8" text-anchor="middle" >M4</text>
<text transform="translate(277.06,597.40) scale(1,1.04)" font-size="16.8" text-anchor="middle" >M5</text>
<text transform="translate(315.61,597.40) scale(1,1.04)" font-size="16.8" text-anchor="middle" >M0</text>
<text transform="translate(354.17,597.40) scale(1,1.04)" font-size="16.8" text-anchor="middle" >M1</text>
<text transform="translate(392.72,597.40) scale(1,1.04)" font-size="16.8" text-anchor="middle" >M2</text>
<text transform="translate(431.28,597.40) scale(1,1.04)" font-size="16.8" text-anchor="middle" >M3</text>
<text transform="translate(469.83,597.40) scale(1,1.04)" font-size="16.8" text-anchor="middle" >M4</text>
<text transform="translate(508.39,597.40) scale(1,1.04)" font-size="16.8" text-anchor="middle" >M5</text>
<text transform="translate(546.94,597.40) scale(1,1.04)" font-size="16.8" text-anchor="middle" >M0</text>
<text transform="translate(585.50,597.40) scale(1,1.04)" font-size="16.8" text-anchor="middle" >M1</text>
<text transform="translate(624.06,597.40) scale(1,1.04)" font-size="16.8" text-anchor="middle" >M2</text>
<text transform="translate(662.61,597.40) scale(1,1.04)" font-size="16.8" text-anchor="middle" >M3</text>
<text transform="translate(701.17,597.40) scale(1,1.04)" font-size="16.8" text-anchor="middle" >M4</text>
<text transform="translate(739.72,597.40) scale(1,1.04)" font-size="16.8" text-anchor="middle" >M5</text>
<text transform="translate(180.67,628.20) scale(1,1.0)" font-size="17" text-anchor="middle" >CRI</text>
<text transform="translate(412.00,628.20) scale(1,1.0)" font-size="17" text-anchor="middle" >FLO</text>
<text transform="translate(643.33,628.20) scale(1,1.0)" font-size="17" text-anchor="middle" >MAT</text>
</svg></body></html>
